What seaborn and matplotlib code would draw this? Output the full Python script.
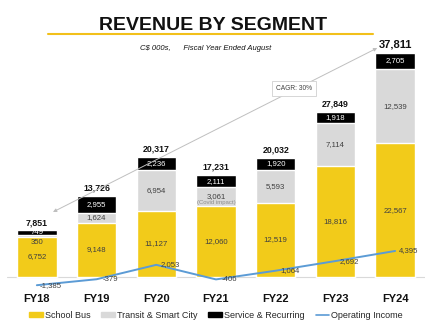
import numpy as np
import pandas as pd
import matplotlib
matplotlib.use("Agg")
import matplotlib.pyplot as plt
import seaborn as sns
from matplotlib.patches import Patch
from matplotlib.lines import Line2D

# ---- data ----
years = ["FY18", "FY19", "FY20", "FY21", "FY22", "FY23", "FY24"]
school_bus = [6752, 9148, 11127, 12060, 12519, 18816, 22567]
transit = [350, 1624, 6954, 3061, 5593, 7114, 12539]
service = [749, 2955, 2236, 2111, 1920, 1918, 2705]
totals = [7851, 13726, 20317, 17231, 20032, 27849, 37811]
op_income = [-1385, -379, 2053, -406, 1064, 2692, 4395]
cagr_text = "CAGR: 30%"

YELLOW = "#F2CB1A"
GRAY = "#D9D9D9"
BLACK = "#000000"
BLUE = "#5B9BD5"
TXT = "#404040"

sns.set_theme(style="white")
plt.rcParams["font.family"] = ["Liberation Sans", "DejaVu Sans"]

df = pd.DataFrame({"year": years, "school": school_bus, "transit": transit,
                   "service": service, "total": totals, "op": op_income})
df["school_transit"] = df["school"] + df["transit"]
df["stack_total"] = df["school_transit"] + df["service"]

fig = plt.figure(figsize=(4.37, 3.28), dpi=100)
ax = fig.add_axes([7/437, 38/328, 418/437, 245/328])

bw = 0.66
sns.barplot(data=df, x="year", y="stack_total", color=BLACK, width=bw,
            saturation=1, ax=ax, order=years)
sns.barplot(data=df, x="year", y="school_transit", color=GRAY, width=bw,
            saturation=1, ax=ax, order=years)
sns.barplot(data=df, x="year", y="school", color=YELLOW, width=bw,
            saturation=1, ax=ax, order=years)
sns.lineplot(data=df, x="year", y="op", color=BLUE, lw=1.4, ax=ax, sort=False)

ax.set_xlim(-0.5, 6.5)
ax.set_ylim(-2194, 39160)
ax.axhline(0, color="#D9D9D9", lw=0.8, zorder=0.5)
for s in ax.spines.values():
    s.set_visible(False)
ax.set_yticks([])
ax.set_xlabel("")
ax.set_ylabel("")
ax.tick_params(axis="x", length=0, pad=3)
for lbl in ax.get_xticklabels():
    lbl.set_fontweight("bold")
    lbl.set_fontsize(8)
    lbl.set_color("#111111")

# segment labels
for i in range(len(years)):
    s, t, v = school_bus[i], transit[i], service[i]
    ax.text(i, s / 2, f"{s:,}", ha="center", va="center", fontsize=5.6, color=TXT)
    if t < 1000:
        ty = s - 850
    else:
        ty = s + t / 2
    ax.text(i, ty, f"{t:,}", ha="center", va="center", fontsize=5.6, color=TXT)
    ax.text(i, s + t + v / 2, f"{v:,}", ha="center", va="center", fontsize=5.6,
            color="white")
    fs = 8 if i == len(years) - 1 else 6.3
    ax.annotate(f"{totals[i]:,}", (i, s + t + v), xytext=(0, 2.5),
                textcoords="offset points", ha="center", va="bottom",
                fontsize=fs, fontweight="bold", color="#111111")
    ax.annotate(f"{op_income[i]:,}", (i, op_income[i]), xytext=(10, 0),
                textcoords="offset points", ha="center", va="center",
                fontsize=5.6, color=TXT)

ax.annotate("(Covid impact)", (3, school_bus[3] + transit[3] / 2),
            xytext=(0, -4), textcoords="offset points", ha="center",
            va="center", fontsize=4.3, color="#8c8c8c")

# CAGR arrow
ax.annotate("", xy=(5.70, 38655), xytext=(0.27, 10972),
            arrowprops=dict(arrowstyle="<|-|>", color="#BFBFBF", lw=0.7,
                            mutation_scale=5, shrinkA=0, shrinkB=0))
ax.text(4.31, 31734, cagr_text, ha="center", va="center", fontsize=4.8,
        color=TXT, bbox=dict(boxstyle="square,pad=0.6", fc="white",
                             ec="#D0D0D0", lw=0.6))

# title
fig.text(213/437, 1 - 25/328, "REVENUE BY SEGMENT", ha="center", va="center",
         fontsize=14, fontweight="bold", color="#111111")
fig.add_artist(Line2D([48/437, 373/437], [1 - 34/328, 1 - 34/328],
                      color="#F2C01A", lw=1.5))
fig.text(206/437, 1 - 48/328, "C$ 000s,      Fiscal Year Ended August",
         ha="center", va="center", fontsize=5.5, style="italic", color="#111111")

# legend
handles = [Patch(color=YELLOW, label="School Bus"),
           Patch(color=GRAY, label="Transit & Smart City"),
           Patch(color=BLACK, label="Service & Recurring"),
           Line2D([], [], color=BLUE, lw=1.2, label="Operating Income")]
fig.legend(handles=handles, loc="center", bbox_to_anchor=(216/437, 1 - 315/328),
           ncol=4, frameon=False, fontsize=6.5, handlelength=1.5,
           handleheight=0.5, handletextpad=0.25, columnspacing=1.2)

fig.savefig("out.png", dpi=100)
